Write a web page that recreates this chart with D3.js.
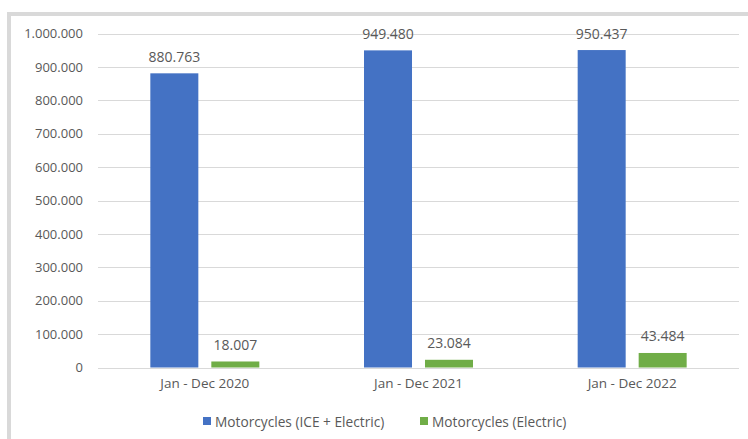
<!DOCTYPE html>
<html>
<head>
<meta charset="utf-8">
<script src="https://cdn.jsdelivr.net/npm/d3@7"></script>
<style>
  html, body { margin: 0; padding: 0; background: #fff; }
  svg { display: block; }
  text { font-family: "Open Sans", "Noto Sans", sans-serif; fill: #595959; }
</style>
</head>
<body>
<svg id="chart" width="748" height="439"></svg>
<script>
// Annual motorcycle registrations
const categories = ["Jan - Dec 2020", "Jan - Dec 2021", "Jan - Dec 2022"];
const seriesNames = ["Motorcycles (ICE + Electric)", "Motorcycles (Electric)"];
const totalValues = [880763, 949480, 950437];
const electricValues = [18007, 23084, 43484];
const seriesColors = ["#4472c4", "#70ad47"];
const yTicks = [0, 100000, 200000, 300000, 400000, 500000, 600000, 700000, 800000, 900000, 1000000];

const series = [totalValues, electricValues];
const fmt = v => d3.format(",")(v).replace(/,/g, ".");

const W = 748, H = 439;
const margin = { left: 98, right: 9, top: 33.5, bottom: 71.5 };
const clusterWidth = 109;
const svg = d3.select("#chart");

// outer frame (cropped at right and bottom)
svg.append("rect").attr("x", 0).attr("y", 0).attr("width", W).attr("height", H).attr("fill", "#fff");
svg.append("rect").attr("x", 9).attr("y", 14).attr("width", W).attr("height", H)
  .attr("fill", "none").attr("stroke", "#d9d9d9").attr("stroke-width", 4);

const x0 = d3.scaleBand().domain(categories).range([margin.left, W - margin.right]);
const x1 = d3.scaleBand().domain(d3.range(series.length)).range([0, clusterWidth]).paddingInner(0.213);
const y = d3.scaleLinear().domain([0, 1000000]).range([H - margin.bottom, margin.top]);

// gridlines
svg.append("g").selectAll("line").data(yTicks).join("line")
  .attr("x1", margin.left).attr("x2", W - margin.right)
  .attr("y1", d => Math.round(y(d)) + 0.5).attr("y2", d => Math.round(y(d)) + 0.5)
  .attr("stroke", "#d9d9d9").attr("stroke-width", 1);

// y axis labels
const yAxis = d3.axisLeft(y).tickValues(yTicks).tickFormat(fmt).tickSize(0).tickPadding(15);
const gy = svg.append("g").attr("transform", `translate(${margin.left},0)`).call(yAxis);
gy.select(".domain").remove();
gy.selectAll("text").attr("font-size", 13).style("font-family", "'Open Sans', sans-serif").attr("fill", "#595959");

// x axis labels
const xAxis = d3.axisBottom(x0).tickSize(0).tickPadding(11);
const gx = svg.append("g").attr("transform", `translate(0,${y(0)})`).call(xAxis);
gx.select(".domain").remove();
gx.selectAll("text").attr("font-size", 13.5).style("font-family", "'Open Sans', sans-serif").attr("fill", "#595959");

// bars and value labels
const groups = svg.append("g").selectAll("g").data(categories).join("g")
  .attr("transform", d => `translate(${x0(d) + x0.bandwidth() / 2 - clusterWidth / 2},0)`);

series.forEach((vals, si) => {
  groups.append("rect")
    .attr("x", x1(si)).attr("width", x1.bandwidth())
    .attr("y", (d, i) => y(vals[i]))
    .attr("height", (d, i) => y(0) - y(vals[i]))
    .attr("fill", seriesColors[si]);
  groups.append("text")
    .attr("x", x1(si) + x1.bandwidth() / 2)
    .attr("y", (d, i) => y(vals[i]) - 17)
    .attr("text-anchor", "middle").attr("dominant-baseline", "central")
    .attr("font-size", 14)
    .text((d, i) => fmt(vals[i]));
});

// legend
const legendItems = [{ x: 203, name: seriesNames[0], color: seriesColors[0] },
                     { x: 420, name: seriesNames[1], color: seriesColors[1] }];
const lg = svg.append("g").selectAll("g").data(legendItems).join("g")
  .attr("transform", d => `translate(${d.x},421)`);
lg.append("rect").attr("x", 0).attr("y", -4).attr("width", 8).attr("height", 8).attr("fill", d => d.color);
lg.append("text").attr("x", 12).attr("y", 0).attr("dominant-baseline", "central")
  .attr("font-size", 13.7).text(d => d.name);
</script>
</body>
</html>
